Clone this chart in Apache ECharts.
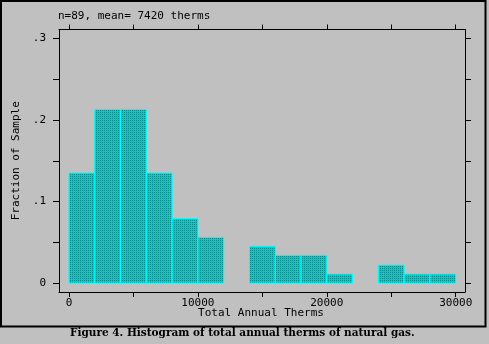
<!DOCTYPE html>
<html><head><meta charset="utf-8">
<script src="https://cdn.jsdelivr.net/npm/echarts@6/dist/echarts.min.js"></script>
<style>html,body{margin:0;padding:0;background:#c0c0c0;}#c{width:489px;height:344px;}</style>
</head><body><div id="c"></div>
<script>
// Histogram bins (lower edges, therms) and fraction of sample in each bin
const binStarts = [0, 2000, 4000, 6000, 8000, 10000, 12000, 14000, 16000, 18000, 20000, 22000, 24000, 26000, 28000];
const binWidth = 2000;
const fractions = [0.135, 0.213, 0.213, 0.135, 0.079, 0.056, 0, 0.045, 0.034, 0.034, 0.011, 0, 0.022, 0.011, 0.011];
const xTickValues = [0, 5000, 10000, 15000, 20000, 25000, 30000];
const xLabelValues = [0, 10000, 20000, 30000];
const yTickValues = [0, 0.05, 0.1, 0.15, 0.2, 0.25, 0.3];
const yLabelValues = [0, 0.1, 0.2, 0.3];
const noteText = 'n=89, mean= 7420 therms';
const xName = 'Total Annual Therms';
const yName = 'Fraction of Sample';
const captionText = 'Figure 4. Histogram of total annual therms of natural gas.';

const mono = "'DejaVu Sans Mono', 'Liberation Mono', monospace";

// dotted fill pattern
const pc = document.createElement('canvas');
pc.width = 2; pc.height = 2;
const pctx = pc.getContext('2d');
pctx.fillStyle = '#00cccc'; pctx.fillRect(0, 0, 2, 2);
pctx.fillStyle = '#008e8e'; pctx.fillRect(0, 0, 1, 1);
const pattern = { image: pc, repeat: 'repeat' };

const data = binStarts.map((s, i) => [s, s + binWidth, fractions[i]]);

const chart = echarts.init(document.getElementById('c'), null, { renderer: 'canvas' });
const axisCommon = {
  type: 'value',
  axisLine: { show: true, onZero: false, lineStyle: { color: '#000', width: 1 } },
  axisTick: { show: true, length: 5, lineStyle: { color: '#000', width: 1 } },
  splitLine: { show: false },
  axisLabel: { color: '#000', fontFamily: mono, fontSize: 11 }
};
chart.setOption({
  backgroundColor: '#c0c0c0',
  animation: false,
  grid: { left: 59, right: 24, top: 29.5, bottom: 52, containLabel: false },
  xAxis: [
    Object.assign({}, axisCommon, {
      position: 'bottom', min: -776, max: 30722,
      axisTick: Object.assign({}, axisCommon.axisTick, { customValues: xTickValues }),
      axisLabel: Object.assign({}, axisCommon.axisLabel, { customValues: xLabelValues, margin: 6, formatter: v => String(v) })
    }),
    Object.assign({}, axisCommon, {
      position: 'top', min: -776, max: 30722,
      axisTick: Object.assign({}, axisCommon.axisTick, { customValues: xTickValues }),
      axisLabel: { show: false }
    })
  ],
  yAxis: [
    Object.assign({}, axisCommon, {
      position: 'left', min: -0.011, max: 0.311,
      axisTick: Object.assign({}, axisCommon.axisTick, { length: 6, customValues: yTickValues }),
      axisLabel: Object.assign({}, axisCommon.axisLabel, {
        customValues: yLabelValues, margin: 13,
        formatter: v => v === 0 ? '0' : String(+v.toFixed(2)).replace(/^0\./, '.')
      }),
      name: yName, nameLocation: 'middle', nameGap: 37, nameRotate: 90,
      nameTextStyle: { color: '#000', fontFamily: mono, fontSize: 11 }
    }),
    Object.assign({}, axisCommon, {
      position: 'right', min: -0.011, max: 0.311,
      axisTick: Object.assign({}, axisCommon.axisTick, { length: 6, customValues: yTickValues }),
      axisLabel: { show: false }
    })
  ],
  series: [{
    type: 'custom',
    xAxisIndex: 0, yAxisIndex: 0,
    data: data,
    renderItem: function (params, api) {
      const s = api.value(0), e = api.value(1), f = api.value(2);
      if (!f) return null;
      const p0 = api.coord([s, 0]);
      const p1 = api.coord([e, f]);
      return {
        type: 'rect',
        shape: { x: p0[0], y: p1[1], width: p1[0] - p0[0], height: p0[1] - p1[1] },
        style: { fill: pattern, stroke: '#00ffff', lineWidth: 1 }
      };
    }
  }],
  graphic: [
    { type: 'rect', shape: { x: 1, y: 1, width: 484.5, height: 325.5 },
      style: { fill: 'none', stroke: '#000', lineWidth: 2 }, silent: true },
    { type: 'text', left: 58, top: 11,
      style: { text: noteText, fill: '#000', font: "11px " + mono } },
    { type: 'text', x: 261, y: 313.5,
      style: { text: xName, fill: '#000', font: "11px " + mono, align: 'center', verticalAlign: 'middle' } },
    { type: 'text', left: 70, top: 328,
      style: { text: captionText, fill: '#000', font: "bold 10.5px 'DejaVu Serif', serif" } }
  ]
});
</script></body></html>
